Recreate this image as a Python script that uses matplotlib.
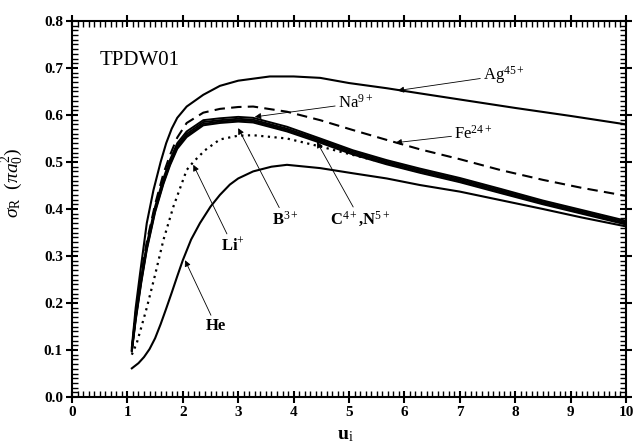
import numpy as np
import matplotlib
matplotlib.use("Agg")
import matplotlib.pyplot as plt
from matplotlib.ticker import MultipleLocator

plt.rcParams['font.family'] = ['Liberation Serif', 'DejaVu Serif']
plt.rcParams['mathtext.fontset'] = 'custom'
plt.rcParams['mathtext.rm'] = 'Liberation Serif'
plt.rcParams['mathtext.it'] = 'Liberation Serif:italic'
plt.rcParams['mathtext.bf'] = 'Liberation Serif:bold'

# Ag45+ (solid, top)
ag_x = [1.08, 1.15, 1.23, 1.35, 1.47, 1.6, 1.7, 1.8, 1.9, 2.07, 2.37, 2.67, 3.0, 3.57, 4.0, 4.48, 5.0, 5.68, 6.28, 7.0, 8.0, 9.0, 10.0]
ag_y = [0.105, 0.19, 0.264, 0.37, 0.44, 0.5, 0.54, 0.571, 0.594, 0.618, 0.643, 0.662, 0.673, 0.682, 0.682, 0.679, 0.668, 0.657, 0.646, 0.633, 0.615, 0.598, 0.580]

# Fe24+ (dashed)
fe_x = [1.08, 1.15, 1.25, 1.35, 1.5, 1.65, 1.77, 1.9, 2.07, 2.37, 2.67, 3.0, 3.27, 3.88, 4.48, 5.07, 5.68, 6.28, 7.0, 7.73, 8.5, 9.2, 10.0]
fe_y = [0.10, 0.18, 0.26, 0.33, 0.41, 0.475, 0.515, 0.552, 0.583, 0.605, 0.613, 0.617, 0.618, 0.607, 0.589, 0.568, 0.547, 0.527, 0.506, 0.483, 0.462, 0.445, 0.428]

# thick band: Na9+, B3+, C4+, N5+
band_x = [1.08, 1.15, 1.25, 1.35, 1.5, 1.65, 1.77, 1.9, 2.07, 2.37, 2.67, 3.0, 3.27, 3.88, 4.48, 5.07, 5.68, 6.28, 7.0, 7.73, 8.5, 9.2, 10.0]
na_y = [0.10, 0.175, 0.255, 0.325, 0.405, 0.465, 0.505, 0.540, 0.565, 0.589, 0.593, 0.596, 0.594, 0.575, 0.550, 0.525, 0.504, 0.486, 0.466, 0.443, 0.418, 0.398, 0.375]
b_y = [0.10, 0.17, 0.25, 0.32, 0.40, 0.460, 0.50, 0.535, 0.56, 0.585, 0.589, 0.592, 0.590, 0.571, 0.547, 0.522, 0.501, 0.483, 0.463, 0.440, 0.415, 0.395, 0.372]
c_y = [0.098, 0.166, 0.246, 0.316, 0.396, 0.456, 0.496, 0.531, 0.556, 0.581, 0.586, 0.589, 0.587, 0.568, 0.544, 0.519, 0.498, 0.480, 0.460, 0.437, 0.412, 0.392, 0.369]
n_y = [0.097, 0.163, 0.243, 0.313, 0.393, 0.453, 0.493, 0.528, 0.553, 0.578, 0.583, 0.586, 0.584, 0.565, 0.541, 0.516, 0.495, 0.477, 0.457, 0.434, 0.410, 0.390, 0.367]

# Li+ (dotted)
li_x = [1.08, 1.17, 1.25, 1.35, 1.5, 1.65, 1.83, 2.07, 2.19, 2.4, 2.67, 3.0, 3.27, 3.88, 4.48, 5.07, 5.68, 6.28, 7.0, 8.0, 9.0, 10.0]
li_y = [0.09, 0.115, 0.148, 0.19, 0.26, 0.334, 0.405, 0.483, 0.50, 0.525, 0.548, 0.556, 0.557, 0.55, 0.533, 0.515, 0.497, 0.479, 0.459, 0.430, 0.400, 0.370]

# He (solid, bottom)
he_x = [1.08, 1.2, 1.3, 1.4, 1.5, 1.6, 1.7, 1.8, 1.9, 2.0, 2.15, 2.31, 2.5, 2.67, 2.85, 3.0, 3.27, 3.6, 3.88, 4.48, 5.07, 5.68, 6.28, 7.0, 7.73, 8.5, 9.2, 10.0]
he_y = [0.061, 0.072, 0.085, 0.102, 0.125, 0.155, 0.188, 0.222, 0.257, 0.291, 0.335, 0.37, 0.405, 0.430, 0.452, 0.465, 0.480, 0.490, 0.494, 0.487, 0.476, 0.465, 0.451, 0.437, 0.419, 0.400, 0.382, 0.363]

fig = plt.figure(figsize=(6.34, 4.48), dpi=100)
ax = fig.add_axes([72 / 634, 1 - 397 / 448, 554 / 634, 376 / 448])

ax.plot(ag_x, ag_y, color='black', lw=1.5)
ax.plot(fe_x, fe_y, color='black', lw=1.5, ls=(0, (5, 3)))
for yy in (na_y, b_y, c_y, n_y):
    ax.plot(band_x, yy, color='black', lw=1.4)
ax.plot(li_x, li_y, color='black', lw=1.6, ls=(0, (1, 2)))
ax.plot(he_x, he_y, color='black', lw=1.5)

ax.set_xlim(0, 10)
ax.set_ylim(0, 0.8)
ax.xaxis.set_major_locator(MultipleLocator(1))
ax.xaxis.set_minor_locator(MultipleLocator(0.1))
ax.yaxis.set_major_locator(MultipleLocator(0.1))
ax.yaxis.set_minor_locator(MultipleLocator(0.01))
ax.yaxis.set_major_formatter(plt.FormatStrFormatter('%.1f'))
ax.tick_params(which='major', direction='inout', length=9, width=1.5,
               top=True, right=True, labelsize=11, pad=2)
ax.tick_params(which='minor', direction='in', length=4, width=1.0,
               top=True, right=True)
for lab in ax.get_xticklabels() + ax.get_yticklabels():
    lab.set_fontweight('bold')
for sp in ax.spines.values():
    sp.set_linewidth(1.5)

ax.set_xlabel(r'u$_{\rm i}$', fontsize=14, fontweight='bold')
ax.xaxis.set_label_coords(0.493, -0.08)
ax.set_ylabel(r'$\sigma_{\rm R}$  ($\pi a_0^2$)', fontsize=14)
ax.yaxis.set_label_coords(-0.085, 0.57)

ax.text(0.5, 0.717, 'TPDW01', fontsize=15, va='center')

arrow = dict(arrowstyle='-|>', color='black', lw=0.6, mutation_scale=9,
             shrinkA=0, shrinkB=0)
ax.annotate(r'Ag$^{45+}$', xy=(5.88, 0.652), xytext=(7.42, 0.685),
            fontsize=12, va='center', arrowprops=arrow)
ax.annotate(r'Na$^{9+}$', xy=(3.3, 0.596), xytext=(4.8, 0.625),
            fontsize=12, va='center', arrowprops=arrow)
ax.annotate(r'Fe$^{24+}$', xy=(5.84, 0.541), xytext=(6.9, 0.560),
            fontsize=12, va='center', arrowprops=arrow)
ax.annotate(r'B$^{3+}$', xy=(3.0, 0.572), xytext=(3.85, 0.378),
            fontsize=12, fontweight='bold', ha='center', va='center',
            arrowprops=arrow)
ax.annotate(r'C$^{4+}$,N$^{5+}$', xy=(4.42, 0.543), xytext=(5.2, 0.378),
            fontsize=12, fontweight='bold', ha='center', va='center',
            arrowprops=arrow)
ax.annotate(r'Li$^{+}$', xy=(2.19, 0.494), xytext=(2.9, 0.322),
            fontsize=12, fontweight='bold', ha='center', va='center',
            arrowprops=arrow)
ax.annotate('He', xy=(2.04, 0.291), xytext=(2.6, 0.151),
            fontsize=12, fontweight='bold', ha='center', va='center',
            arrowprops=arrow)

fig.savefig('out.png', dpi=100)
